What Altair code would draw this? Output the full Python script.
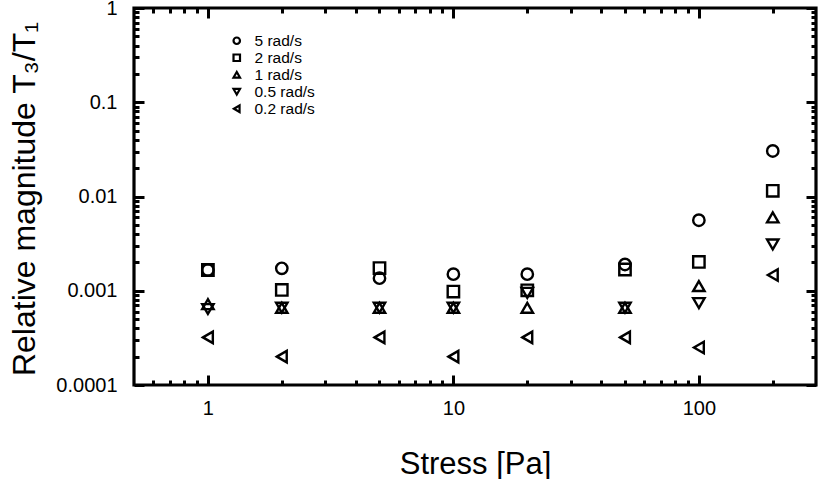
import altair as alt
import pandas as pd

# ---- data ----
stress = [1, 2, 5, 10, 20, 50, 100, 200]
series_names = ["5 rad/s", "2 rad/s", "1 rad/s", "0.5 rad/s", "0.2 rad/s"]
w5 = [0.00166, 0.00173, 0.00136, 0.00150, 0.00150, 0.00190, 0.0056, 0.0304]
w2 = [0.00166, 0.00102, 0.00174, 0.00098, 0.00101, 0.00168, 0.00202, 0.0115]
w1 = [0.00072, 0.00066, 0.00066, 0.00066, 0.00066, 0.00066, 0.00112, 0.0060]
w05 = [0.00064, 0.00066, 0.00066, 0.00066, 0.00095, 0.00066, 0.00074, 0.0031]
w02 = [0.00032, 0.00020, 0.00032, 0.00020, 0.00032, 0.00032, 0.00025, 0.00147]
series_values = [w5, w2, w1, w05, w02]

shapes = ["circle", "square", "triangle-up", "triangle-down", "triangle-left"]

x_major = [1, 10, 100]
x_minor = [0.6, 0.7, 0.8, 0.9, 2, 3, 4, 5, 6, 7, 8, 9,
           20, 30, 40, 50, 60, 70, 80, 90, 200]
y_major = [0.0001, 0.001, 0.01, 0.1, 1]
y_minor = [0.0002, 0.0003, 0.0004, 0.0005, 0.0006, 0.0007, 0.0008, 0.0009,
           0.002, 0.003, 0.004, 0.005, 0.006, 0.007, 0.008, 0.009,
           0.02, 0.03, 0.04, 0.05, 0.06, 0.07, 0.08, 0.09,
           0.2, 0.3, 0.4, 0.5, 0.6, 0.7, 0.8, 0.9]

rows = []
for name, vals in zip(series_names, series_values):
    for s, v in zip(stress, vals):
        rows.append({"stress": s, "value": v, "series": name})
df = pd.DataFrame(rows)

W, H = 682, 377
FONT = "Liberation Sans"

xscale = alt.Scale(type="log", domain=[0.5, 300], nice=False)
yscale = alt.Scale(type="log", domain=[0.0001, 1], nice=False)

points = alt.Chart(df).mark_point(filled=False, strokeWidth=2.4, color="black",
                                  opacity=1, size=130).encode(
    x=alt.X("stress:Q", scale=xscale,
            axis=alt.Axis(orient="bottom", values=x_major, format="~g", ticks=False, tickSize=0,
                          domain=False, grid=False, labelFontSize=20, labelPadding=13,
                          labelColor="black", labelFont=FONT,
                          title="Stress [Pa]", titleFontSize=31, titleFontWeight="normal",
                          titleFont=FONT, titleColor="black",
                          titleX=W / 2, titleY=88, titleAlign="center", titleBaseline="alphabetic")),
    y=alt.Y("value:Q", scale=yscale,
            axis=alt.Axis(orient="left", values=y_major, format="~g", ticks=False, tickSize=0,
                          domain=False, grid=False, labelFontSize=20, labelPadding=17,
                          labelColor="black", labelFont=FONT,
                          title="Relative magnitude T₃/T₁", titleFontSize=32, titleFontWeight="normal",
                          titleFont=FONT, titleColor="black", titleAngle=-90,
                          titleX=-100, titleY=H / 2 + 2, titleAlign="center",
                          titleBaseline="alphabetic")),
    shape=alt.Shape("series:N", scale=alt.Scale(domain=series_names, range=shapes),
                    legend=alt.Legend(title=None, orient="none", legendX=95, legendY=25, padding=0,
                                      labelFontSize=15.5, labelFont=FONT, labelColor="black",
                                      labelOffset=10, symbolSize=42, symbolStrokeWidth=2.2,
                                      symbolStrokeColor="black", symbolFillColor="transparent",
                                      rowPadding=0)),
)


def tick_layer(xorient, yorient, xv, yv, size):
    return alt.Chart(df).mark_point(opacity=0).encode(
        x=alt.X("stress:Q", scale=xscale,
                axis=alt.Axis(orient=xorient, values=xv, labels=False, domain=False, grid=False,
                              ticks=True, tickSize=size, offset=-size, tickWidth=3,
                              tickColor="black", title=None, zindex=2)),
        y=alt.Y("value:Q", scale=yscale,
                axis=alt.Axis(orient=yorient, values=yv, labels=False, domain=False, grid=False,
                              ticks=True, tickSize=size, offset=-size, tickWidth=3,
                              tickColor="black", title=None, zindex=2)),
    )


chart = alt.layer(
    points,
    tick_layer("bottom", "left", x_major, y_major, 10),
    tick_layer("bottom", "left", x_minor, y_minor, 5),
    tick_layer("top", "right", x_major, y_major, 10),
    tick_layer("top", "right", x_minor, y_minor, 5),
).resolve_axis(
    x="independent", y="independent"
).properties(
    width=W, height=H,
    autosize=alt.AutoSizeParams(type="none"),
    padding={"left": 134, "top": 8, "right": 2, "bottom": 94},
).configure(
    font=FONT,
    view=alt.ViewConfig(stroke="black", strokeWidth=3.2),
)

chart.save("out.html", embed_options={"renderer": "svg", "actions": False})
